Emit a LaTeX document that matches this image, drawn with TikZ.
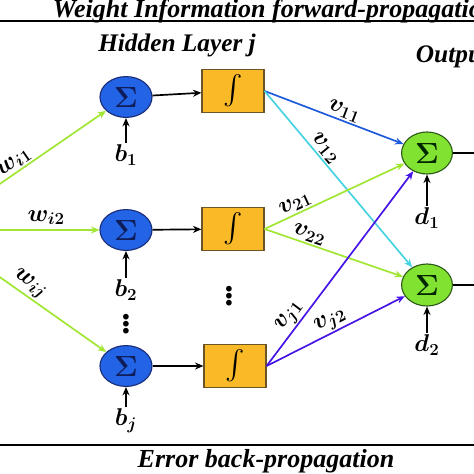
\documentclass[tikz,border=0pt]{standalone}
\usepackage{fontspec}
\setmainfont{Liberation Serif}
\usepackage{amsmath}
\usetikzlibrary{shapes.geometric,arrows.meta}

\definecolor{sumblue}{RGB}{35,100,230}
\definecolor{sumedge}{RGB}{25,45,120}
\definecolor{outgreen}{RGB}{130,226,50}
\definecolor{outedge}{RGB}{45,90,25}
\definecolor{boxorange}{RGB}{250,186,40}
\definecolor{boxedge}{RGB}{105,85,40}
\definecolor{lime}{RGB}{160,230,50}
\definecolor{vblue}{RGB}{30,90,220}
\definecolor{vcyan}{RGB}{70,210,225}
\definecolor{vpurple}{RGB}{70,20,230}
\definecolor{sigmanavy}{RGB}{15,30,90}

\tikzset{
  hid/.style={draw=sumedge, fill=sumblue, ellipse, line width=0.8pt, minimum width=1.3cm, minimum height=1.02cm, inner sep=0pt, text=sigmanavy, font=\fontsize{21}{21}\selectfont\boldmath},
  outp/.style={draw=outedge, fill=outgreen, ellipse, line width=0.8pt, minimum width=1.27cm, minimum height=1.05cm, inner sep=0pt, text=black!85!green, font=\fontsize{21}{21}\selectfont\boldmath},
  act/.style={draw=boxedge, fill=boxorange, rectangle, line width=0.8pt, minimum width=1.55cm, minimum height=1.07cm, inner sep=0pt, font=\fontsize{22}{22}\selectfont},
  lbl/.style={font=\fontsize{16.5}{16.5}\selectfont\bfseries\boldmath, inner sep=1pt},
  ttl/.style={font=\fontsize{18.5}{20}\selectfont\bfseries\itshape},
  arr/.style={-{Stealth[length=6pt,width=5pt]}, line width=1.2pt},
}

\begin{document}
\begin{tikzpicture}[x=0.025cm, y=-0.025cm]
\useasboundingbox (0,0) rectangle (474,474);
\clip (0,0) rectangle (474,474);

% headings and rules
\node[ttl, anchor=west] (top) at (48,11) {Weight Information forward-propagation};
\draw[line width=1pt] (0,21) -- (474,21);
\node[ttl, font=\fontsize{18}{19}\selectfont\bfseries\itshape] (hl) at (177,45) {Hidden Layer \textit{j}};
\node[ttl, font=\fontsize{18}{19}\selectfont\bfseries\itshape, anchor=west] (ol) at (411,57) {Output Layer};
\draw[line width=1pt] (0,445) -- (474,445);
\node[ttl] (bot) at (266,461) {Error back-propagation};

% input
\coordinate (in) at (-67,230);

% hidden layer
\node[hid] (h1) at (126,97) {$\Sigma$};
\node[hid] (h2) at (126,230) {$\Sigma$};
\node[hid] (h3) at (126,366) {$\Sigma$};
\node[act] (f1) at (233,91) {$\int$};
\node[act] (f2) at (233,229) {$\int$};
\node[act] (f3) at (235,366) {$\int$};

\node[lbl] (b1) at (126,155) {$b_1$};
\node[lbl] (b2) at (126,290) {$b_2$};
\node[lbl] (bj) at (126,421) {$b_j$};
\node[font=\Huge\bfseries] (dh) at (126,320) {$\vdots$};
\node[font=\Huge\bfseries] (df) at (229,292) {$\vdots$};

% output layer
\node[outp] (o1) at (427,153) {$\Sigma$};
\node[outp] (o2) at (427,285) {$\Sigma$};
\node[lbl] (d1) at (427,218) {$d_1$};
\node[lbl] (d2) at (427,345) {$d_2$};
\coordinate (y1) at (480,153);
\coordinate (y2) at (480,285);

% connections
\draw[arr, lime] (in) -- (h1) node[lbl, black, sloped, above, pos=0.5] {$w_{i1}$};
\draw[arr, lime] (in) -- (h2) node[lbl, black, above=2pt, pos=0.68] {$w_{i2}$};
\draw[arr, lime] (in) -- (h3) node[lbl, black, sloped, above, pos=0.52] {$w_{ij}$};

\draw[arr] (b1) -- (h1);
\draw[arr] (b2) -- (h2);
\draw[arr] (bj) -- (h3);
\draw[arr] (h1) -- (f1);
\draw[arr] (h2) -- (f2);
\draw[arr] (h3) -- (f3);

\draw[arr, vblue] (f1.east) -- (o1) node[lbl, black, sloped, above, pos=0.55] {$v_{11}$};
\draw[arr, vcyan] (f1.east) -- (o2) node[lbl, black, sloped, above, pos=0.36] {$v_{12}$};
\draw[arr, lime] (f2.east) -- (o1) node[lbl, black, sloped, above, pos=0.25] {$v_{21}$};
\draw[arr, lime] (f2.east) -- (o2) node[lbl, black, sloped, above, pos=0.3] {$v_{22}$};
\draw[arr, vpurple] (f3.east) -- (o1) node[lbl, black, sloped, above, pos=0.22] {$v_{j1}$};
\draw[arr, vpurple] (f3.east) -- (o2) node[lbl, black, sloped, above, pos=0.5] {$v_{j2}$};

\draw[arr] (d1) -- (o1);
\draw[arr] (d2) -- (o2);
\draw[line width=1.2pt] (o1) -- (y1);
\draw[line width=1.2pt] (o2) -- (y2);

\end{tikzpicture}
\end{document}
